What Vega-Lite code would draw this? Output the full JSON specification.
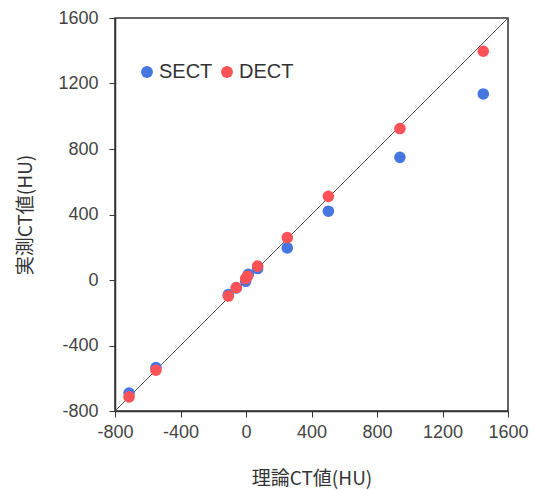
{
  "$schema": "https://vega.github.io/schema/vega-lite/v6.json",
  "autosize": "none",
  "padding": {"left": 115, "top": 18, "right": 26, "bottom": 79},
  "width": 393,
  "height": 393,
  "config": {
    "font": "Liberation Sans, Noto Sans CJK JP",
    "view": {"stroke": "#333333", "strokeWidth": 1.5},
    "axis": {
      "grid": false,
      "domainColor": "#333333",
      "domainWidth": 1.5,
      "tickColor": "#333333",
      "tickSize": 6,
      "labelFont": "Liberation Sans",
      "labelFontSize": 18,
      "labelColor": "#444444",
      "labelFlush": false,
      "labelOverlap": false,
      "titleFont": "Noto Sans CJK JP, Liberation Sans",
      "titleFontSize": 19,
      "titleFontWeight": "normal",
      "titleColor": "#333333",
      "labelExpr": "'' + datum.value"
    }
  },
  "layer": [
    {
      "data": {"values": [{"x": -800, "y": -800}, {"x": 1600, "y": 1600}]},
      "mark": {"type": "line", "color": "#555555", "strokeWidth": 1},
      "encoding": {
        "x": {"field": "x", "type": "quantitative"},
        "y": {"field": "y", "type": "quantitative"}
      }
    },
    {
      "data": {
        "values": [
          {"theory": -714, "measured": -690, "method": "SECT"},
          {"theory": -550, "measured": -535, "method": "SECT"},
          {"theory": -108, "measured": -89, "method": "SECT"},
          {"theory": -59, "measured": -48, "method": "SECT"},
          {"theory": -2, "measured": -8, "method": "SECT"},
          {"theory": 14, "measured": 35, "method": "SECT"},
          {"theory": 71, "measured": 70, "method": "SECT"},
          {"theory": 252, "measured": 196, "method": "SECT"},
          {"theory": 503, "measured": 420, "method": "SECT"},
          {"theory": 940, "measured": 749, "method": "SECT"},
          {"theory": 1449, "measured": 1136, "method": "SECT"},
          {"theory": -714, "measured": -714, "method": "DECT"},
          {"theory": -550, "measured": -551, "method": "DECT"},
          {"theory": -108, "measured": -98, "method": "DECT"},
          {"theory": -59, "measured": -46, "method": "DECT"},
          {"theory": -2, "measured": 9, "method": "DECT"},
          {"theory": 10, "measured": 23, "method": "DECT"},
          {"theory": 71, "measured": 85, "method": "DECT"},
          {"theory": 252, "measured": 259, "method": "DECT"},
          {"theory": 503, "measured": 511, "method": "DECT"},
          {"theory": 940, "measured": 925, "method": "DECT"},
          {"theory": 1449, "measured": 1397, "method": "DECT"}
        ]
      },
      "mark": {"type": "circle", "size": 135, "opacity": 1},
      "encoding": {
        "x": {
          "field": "theory", "type": "quantitative",
          "scale": {"domain": [-800, 1600], "nice": false},
          "axis": {"values": [-800, -400, 0, 400, 800, 1200, 1600], "title": "理論CT値(HU)", "labelPadding": 6, "titlePadding": 28}
        },
        "y": {
          "field": "measured", "type": "quantitative",
          "scale": {"domain": [-800, 1600], "nice": false},
          "axis": {"values": [-800, -400, 0, 400, 800, 1200, 1600], "title": "実測CT値(HU)", "labelPadding": 11, "titlePadding": 22}
        },
        "color": {
          "field": "method", "type": "nominal",
          "scale": {"domain": ["SECT", "DECT"], "range": ["#4677E0", "#FF5257"]},
          "legend": {
            "title": null,
            "orient": "none",
            "legendX": 22,
            "legendY": 44,
            "direction": "horizontal",
            "symbolType": "circle",
            "symbolSize": 140,
            "labelFontSize": 20,
            "labelColor": "#333333",
            "labelFont": "Liberation Sans",
            "columnPadding": 4,
            "labelOffset": 2
          }
        }
      }
    }
  ]
}
